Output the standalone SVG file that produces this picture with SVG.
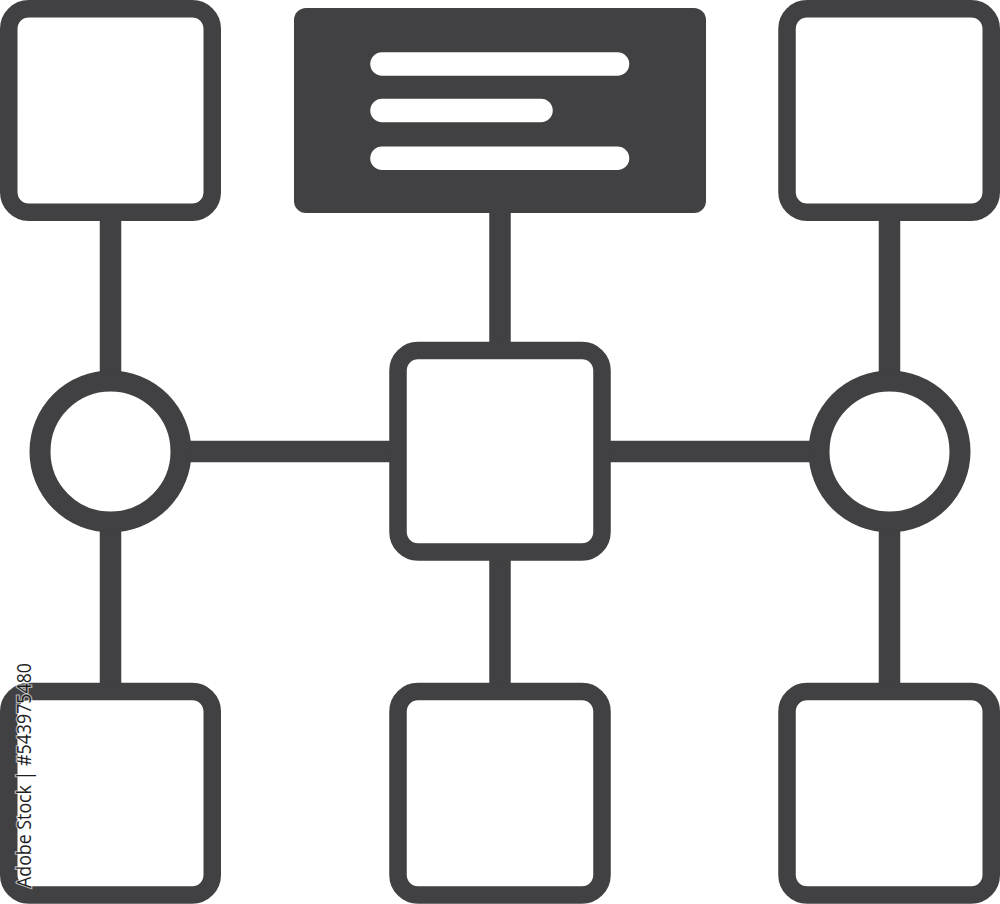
<svg xmlns="http://www.w3.org/2000/svg" width="1000" height="904" viewBox="0 0 1000 904">
  <style>
    .box { fill: #ffffff; stroke: #414042; stroke-width: 17.5; }
    .ring { fill: #ffffff; stroke: #414042; stroke-width: 21; }
    .conn { stroke: #414042; stroke-width: 21.5; fill: none; }
    .line { stroke: #ffffff; stroke-width: 23.5; stroke-linecap: round; fill: none; }
    .wm { font-family: "Open Sans", "Liberation Sans", sans-serif; font-size: 20.5px; fill: #1e1e1f; stroke: #ffffff; stroke-width: 2.5; paint-order: stroke; stroke-opacity: 0.6; }
  </style>
  <rect width="1000" height="904" fill="#ffffff"/>
  <g id="connectors">
    <line class="conn" x1="110.5" y1="215" x2="110.5" y2="380"/>
    <line class="conn" x1="110.5" y1="522" x2="110.5" y2="690"/>
    <line class="conn" x1="889.5" y1="215" x2="889.5" y2="380"/>
    <line class="conn" x1="889.5" y1="522" x2="889.5" y2="690"/>
    <line class="conn" x1="500" y1="205" x2="500" y2="350"/>
    <line class="conn" x1="500" y1="552" x2="500" y2="690"/>
    <line class="conn" x1="180" y1="451.5" x2="398" y2="451.5"/>
    <line class="conn" x1="602" y1="451.5" x2="820" y2="451.5"/>
  </g>
  <g id="node-title">
    <rect x="294" y="8" width="412" height="205" rx="12" fill="#414042"/>
    <line class="line" x1="382" y1="64" x2="617.5" y2="64"/>
    <line class="line" x1="382" y1="110.5" x2="541" y2="110.5"/>
    <line class="line" x1="382" y1="158.3" x2="617.5" y2="158.3"/>
  </g>
  <g id="node-top-left"><rect class="box" x="8.75" y="8.75" width="203.5" height="203.5" rx="20"/></g>
  <g id="node-top-right"><rect class="box" x="787" y="8.75" width="204.25" height="203.5" rx="20"/></g>
  <g id="node-left-circle"><circle class="ring" cx="110.5" cy="451.5" r="70.5"/></g>
  <g id="node-right-circle"><circle class="ring" cx="889.5" cy="451.5" r="70.5"/></g>
  <g id="node-center"><rect class="box" x="398" y="350.5" width="204" height="201.5" rx="20"/></g>
  <g id="node-bottom-left"><rect class="box" x="8.75" y="691.5" width="203.5" height="203.5" rx="20"/></g>
  <g id="node-bottom-center"><rect class="box" x="398" y="691.5" width="204" height="203.5" rx="20"/></g>
  <g id="node-bottom-right"><rect class="box" x="787" y="691.5" width="204.25" height="203.5" rx="20"/></g>
  <text class="wm" transform="translate(30.5,888) rotate(-90)" textLength="225" lengthAdjust="spacingAndGlyphs">Adobe Stock | #543975480</text>
</svg>
